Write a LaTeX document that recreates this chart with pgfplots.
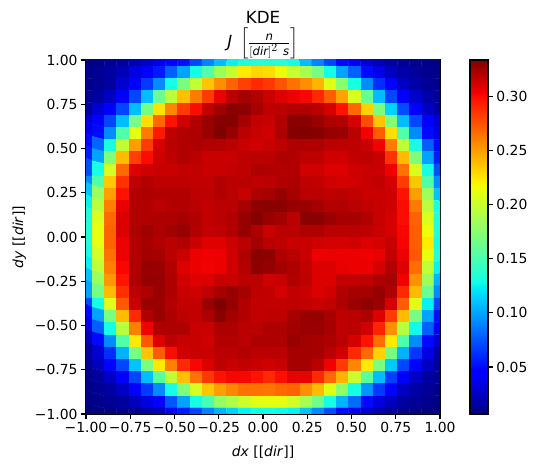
\documentclass[border=0pt]{standalone}
\usepackage{amsmath}
\usepackage{fontspec}
\setmainfont{DejaVu Sans}
\usepackage{pgfplots}
\pgfplotsset{compat=1.18}
\pgfplotsset{colormap={mpljet}{
rgb(0pt)=(0,0,.5) rgb(110pt)=(0,0,1) rgb(125pt)=(0,0,1) rgb(340pt)=(0,.86,1) rgb(350pt)=(0,.9,.97)
rgb(375pt)=(.08,1,.9) rgb(640pt)=(.94,1,.03) rgb(650pt)=(.97,.96,0) rgb(660pt)=(1,.93,0)
rgb(890pt)=(1,.07,0) rgb(910pt)=(.95,0,0) rgb(1000pt)=(.5,0,0)}}
\newcommand{\tf}{\fontsize{13.9}{16}\selectfont}
\newcommand{\ttf}{\fontsize{16.7}{20}\selectfont}
\begin{document}
\begin{tikzpicture}
\path[use as bounding box] (-86pt,-56pt) rectangle (452pt,414pt);
\begin{axis}[
  at={(0pt,0pt)}, anchor=south west,
  scale only axis, width=354pt, height=354pt,
  xmin=-1, xmax=1, ymin=-1, ymax=1,
  axis line style={line width=1.1pt},
  tick style={line width=1.1pt, black},
  major tick length=4.9pt, tick align=outside, xtick pos=bottom, ytick pos=left,
  xtick={-1,-0.75,-0.5,-0.25,0,0.25,0.5,0.75,1},
  ytick={-1,-0.75,-0.5,-0.25,0,0.25,0.5,0.75,1},
  xticklabels={−1.00,−0.75,−0.50,−0.25,0.00,0.25,0.50,0.75,1.00},
  yticklabels={−1.00,−0.75,−0.50,−0.25,0.00,0.25,0.50,0.75,1.00},
  tick label style={font=\tf},
  xlabel={\textit{dx} [[\textit{dir}]]}, ylabel={\textit{dy} [[\textit{dir}]]},
  label style={font=\tf},
  xlabel shift=6pt, ylabel shift=2pt,
  title={KDE\\[4pt]$\textit{J}\;\left[\frac{\textit{n}}{[\textit{dir}]^{\scriptstyle 2}\ \textit{s}}\right]$},
  title style={align=center,font=\ttf,yshift=-8pt},
  colormap name=mpljet,
  point meta min=0.0065, point meta max=0.334,
  colorbar,
  colorbar/width=18pt,
  colorbar style={
    at={(1.0847,0)}, anchor=south west,
    scale only axis, height=354pt,
    ytick={0.05,0.10,0.15,0.20,0.25,0.30},
    yticklabel pos=right, ytick pos=right, tick align=outside,
    major tick length=4.9pt,
    tick style={line width=1.1pt, black},
    axis line style={line width=1.1pt},
    yticklabel style={font=\tf,/pgf/number format/fixed,/pgf/number format/fixed zerofill,/pgf/number format/precision=2,/pgf/number format/assume math mode=true},
  },
]
\addplot[matrix plot*, shader=faceted, faceted color=mapped color, line width=0.2pt, mesh/cols=30, mesh/ordering=x varies, point meta=explicit, on layer=axis background]
 table[row sep=\\, header=false, x expr={-1+2*mod(\coordindex,30)/29}, y expr={1-2*floor(\coordindex/30)/29}, meta index=0]{
0.007\\0.008\\0.011\\0.014\\0.020\\0.028\\0.036\\0.044\\0.052\\0.070\\0.090\\0.108\\0.125\\0.132\\0.136\\0.136\\0.135\\0.130\\0.108\\0.090\\0.070\\0.050\\0.040\\0.030\\0.022\\0.016\\0.012\\0.010\\0.009\\0.007\\
0.010\\0.012\\0.016\\0.022\\0.034\\0.044\\0.055\\0.078\\0.100\\0.130\\0.155\\0.183\\0.200\\0.223\\0.230\\0.228\\0.215\\0.200\\0.188\\0.168\\0.130\\0.100\\0.078\\0.050\\0.036\\0.025\\0.018\\0.014\\0.011\\0.009\\
0.010\\0.012\\0.016\\0.030\\0.046\\0.066\\0.092\\0.130\\0.168\\0.197\\0.236\\0.255\\0.270\\0.282\\0.290\\0.285\\0.275\\0.265\\0.255\\0.242\\0.210\\0.175\\0.130\\0.092\\0.062\\0.042\\0.026\\0.018\\0.013\\0.010\\
0.012\\0.015\\0.026\\0.044\\0.070\\0.108\\0.163\\0.197\\0.238\\0.262\\0.284\\0.307\\0.319\\0.324\\0.321\\0.315\\0.310\\0.306\\0.302\\0.290\\0.272\\0.248\\0.207\\0.163\\0.108\\0.070\\0.046\\0.028\\0.018\\0.013\\
0.015\\0.030\\0.046\\0.070\\0.108\\0.168\\0.226\\0.258\\0.284\\0.300\\0.317\\0.326\\0.331\\0.330\\0.324\\0.318\\0.319\\0.321\\0.322\\0.319\\0.312\\0.298\\0.268\\0.232\\0.170\\0.115\\0.072\\0.044\\0.026\\0.015\\
0.030\\0.044\\0.070\\0.108\\0.168\\0.228\\0.268\\0.298\\0.313\\0.321\\0.327\\0.332\\0.332\\0.324\\0.317\\0.315\\0.321\\0.331\\0.331\\0.327\\0.322\\0.321\\0.312\\0.278\\0.236\\0.172\\0.108\\0.070\\0.044\\0.030\\
0.036\\0.050\\0.092\\0.153\\0.213\\0.262\\0.296\\0.318\\0.321\\0.322\\0.327\\0.334\\0.328\\0.319\\0.315\\0.313\\0.322\\0.332\\0.333\\0.332\\0.328\\0.327\\0.319\\0.304\\0.272\\0.228\\0.153\\0.092\\0.050\\0.034\\
0.050\\0.080\\0.130\\0.197\\0.250\\0.284\\0.311\\0.319\\0.321\\0.322\\0.321\\0.321\\0.319\\0.315\\0.313\\0.315\\0.318\\0.322\\0.322\\0.322\\0.319\\0.318\\0.318\\0.315\\0.304\\0.262\\0.197\\0.130\\0.078\\0.050\\
0.056\\0.100\\0.172\\0.240\\0.282\\0.300\\0.313\\0.318\\0.321\\0.319\\0.315\\0.315\\0.315\\0.318\\0.319\\0.319\\0.322\\0.321\\0.318\\0.318\\0.313\\0.313\\0.317\\0.318\\0.315\\0.287\\0.240\\0.172\\0.100\\0.056\\
0.072\\0.130\\0.205\\0.268\\0.310\\0.313\\0.315\\0.315\\0.317\\0.317\\0.315\\0.315\\0.317\\0.318\\0.322\\0.321\\0.321\\0.321\\0.313\\0.313\\0.310\\0.310\\0.313\\0.315\\0.315\\0.306\\0.265\\0.207\\0.130\\0.072\\
0.092\\0.153\\0.235\\0.287\\0.318\\0.321\\0.318\\0.318\\0.318\\0.317\\0.317\\0.321\\0.319\\0.319\\0.318\\0.319\\0.321\\0.322\\0.318\\0.317\\0.313\\0.312\\0.313\\0.315\\0.317\\0.312\\0.284\\0.236\\0.153\\0.092\\
0.110\\0.183\\0.249\\0.298\\0.321\\0.322\\0.321\\0.321\\0.321\\0.318\\0.318\\0.321\\0.319\\0.315\\0.322\\0.324\\0.328\\0.324\\0.319\\0.319\\0.318\\0.319\\0.317\\0.315\\0.315\\0.313\\0.298\\0.250\\0.183\\0.110\\
0.125\\0.195\\0.260\\0.307\\0.321\\0.321\\0.319\\0.321\\0.321\\0.319\\0.317\\0.319\\0.319\\0.324\\0.330\\0.331\\0.331\\0.328\\0.327\\0.324\\0.321\\0.321\\0.319\\0.317\\0.315\\0.313\\0.300\\0.262\\0.195\\0.132\\
0.132\\0.207\\0.268\\0.310\\0.321\\0.321\\0.322\\0.322\\0.324\\0.321\\0.317\\0.319\\0.321\\0.328\\0.332\\0.327\\0.325\\0.319\\0.331\\0.331\\0.327\\0.324\\0.324\\0.321\\0.315\\0.312\\0.300\\0.270\\0.207\\0.135\\
0.134\\0.213\\0.270\\0.310\\0.322\\0.326\\0.322\\0.325\\0.328\\0.321\\0.317\\0.318\\0.321\\0.328\\0.322\\0.315\\0.319\\0.319\\0.322\\0.322\\0.319\\0.319\\0.319\\0.318\\0.315\\0.312\\0.302\\0.272\\0.215\\0.135\\
0.135\\0.213\\0.270\\0.306\\0.321\\0.324\\0.321\\0.319\\0.321\\0.314\\0.309\\0.309\\0.314\\0.319\\0.325\\0.319\\0.318\\0.315\\0.315\\0.313\\0.312\\0.312\\0.313\\0.310\\0.312\\0.315\\0.303\\0.272\\0.223\\0.130\\
0.130\\0.205\\0.265\\0.306\\0.321\\0.325\\0.324\\0.319\\0.315\\0.306\\0.305\\0.306\\0.313\\0.322\\0.331\\0.330\\0.322\\0.319\\0.315\\0.306\\0.307\\0.306\\0.306\\0.305\\0.307\\0.317\\0.306\\0.274\\0.213\\0.135\\
0.125\\0.197\\0.260\\0.302\\0.321\\0.328\\0.327\\0.321\\0.310\\0.306\\0.304\\0.306\\0.313\\0.321\\0.330\\0.328\\0.325\\0.322\\0.317\\0.310\\0.310\\0.307\\0.306\\0.306\\0.312\\0.321\\0.310\\0.266\\0.197\\0.125\\
0.110\\0.183\\0.252\\0.297\\0.322\\0.328\\0.328\\0.322\\0.313\\0.309\\0.310\\0.315\\0.315\\0.319\\0.319\\0.313\\0.315\\0.321\\0.318\\0.310\\0.310\\0.317\\0.317\\0.318\\0.322\\0.324\\0.304\\0.254\\0.183\\0.105\\
0.100\\0.168\\0.240\\0.288\\0.319\\0.322\\0.327\\0.322\\0.315\\0.313\\0.318\\0.324\\0.328\\0.324\\0.318\\0.317\\0.312\\0.317\\0.315\\0.310\\0.313\\0.321\\0.324\\0.324\\0.328\\0.322\\0.290\\0.240\\0.163\\0.092\\
0.070\\0.130\\0.210\\0.274\\0.315\\0.327\\0.327\\0.321\\0.317\\0.317\\0.327\\0.334\\0.328\\0.321\\0.317\\0.317\\0.317\\0.318\\0.317\\0.315\\0.317\\0.322\\0.327\\0.330\\0.327\\0.312\\0.272\\0.210\\0.125\\0.070\\
0.050\\0.100\\0.168\\0.240\\0.290\\0.321\\0.327\\0.322\\0.318\\0.317\\0.322\\0.331\\0.325\\0.321\\0.317\\0.318\\0.318\\0.324\\0.327\\0.328\\0.324\\0.318\\0.319\\0.322\\0.310\\0.284\\0.240\\0.168\\0.100\\0.052\\
0.038\\0.078\\0.130\\0.195\\0.260\\0.304\\0.322\\0.322\\0.322\\0.315\\0.315\\0.322\\0.322\\0.319\\0.319\\0.322\\0.322\\0.325\\0.327\\0.327\\0.324\\0.318\\0.319\\0.313\\0.292\\0.255\\0.195\\0.128\\0.078\\0.046\\
0.025\\0.050\\0.092\\0.153\\0.224\\0.274\\0.310\\0.319\\0.315\\0.315\\0.313\\0.321\\0.321\\0.319\\0.322\\0.322\\0.322\\0.327\\0.325\\0.324\\0.322\\0.319\\0.312\\0.298\\0.266\\0.224\\0.153\\0.092\\0.050\\0.030\\
0.015\\0.030\\0.062\\0.105\\0.168\\0.236\\0.272\\0.300\\0.313\\0.315\\0.315\\0.319\\0.319\\0.321\\0.319\\0.319\\0.319\\0.324\\0.325\\0.324\\0.319\\0.313\\0.290\\0.268\\0.232\\0.168\\0.105\\0.065\\0.035\\0.018\\
0.013\\0.024\\0.048\\0.070\\0.110\\0.170\\0.224\\0.260\\0.290\\0.302\\0.310\\0.318\\0.315\\0.317\\0.315\\0.313\\0.315\\0.324\\0.324\\0.319\\0.304\\0.284\\0.258\\0.224\\0.170\\0.112\\0.070\\0.048\\0.026\\0.015\\
0.010\\0.015\\0.026\\0.046\\0.070\\0.108\\0.155\\0.197\\0.238\\0.265\\0.285\\0.298\\0.302\\0.302\\0.298\\0.290\\0.299\\0.307\\0.307\\0.290\\0.268\\0.243\\0.200\\0.158\\0.108\\0.068\\0.046\\0.027\\0.016\\0.012\\
0.009\\0.012\\0.016\\0.026\\0.046\\0.066\\0.092\\0.130\\0.170\\0.205\\0.236\\0.250\\0.258\\0.265\\0.265\\0.264\\0.268\\0.270\\0.255\\0.240\\0.210\\0.178\\0.130\\0.095\\0.066\\0.048\\0.026\\0.018\\0.013\\0.010\\
0.008\\0.010\\0.012\\0.015\\0.024\\0.034\\0.048\\0.075\\0.100\\0.130\\0.150\\0.180\\0.190\\0.203\\0.210\\0.212\\0.212\\0.205\\0.187\\0.165\\0.130\\0.105\\0.082\\0.050\\0.034\\0.024\\0.016\\0.013\\0.010\\0.008\\
0.006\\0.007\\0.008\\0.010\\0.012\\0.017\\0.022\\0.040\\0.055\\0.070\\0.090\\0.105\\0.115\\0.125\\0.130\\0.130\\0.128\\0.125\\0.110\\0.092\\0.072\\0.050\\0.040\\0.028\\0.020\\0.014\\0.011\\0.009\\0.008\\0.007\\
};
\end{axis}
\end{tikzpicture}
\end{document}
